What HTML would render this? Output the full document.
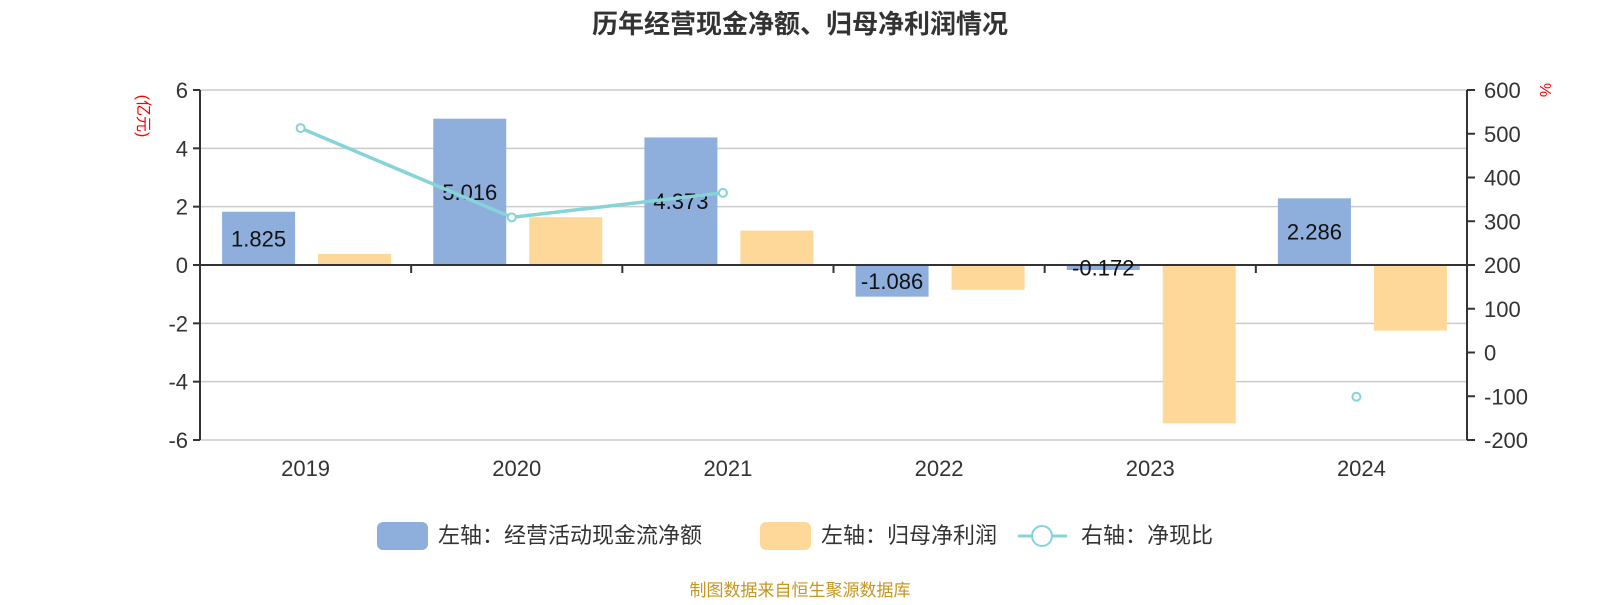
<!DOCTYPE html>
<html><head><meta charset="utf-8"><style>
body{margin:0;background:#fff}
svg text{font-family:"Liberation Sans","Noto Sans CJK SC",sans-serif}
</style></head><body>
<svg id="c" width="1600" height="600" xmlns="http://www.w3.org/2000/svg">
<text x="800" y="33" text-anchor="middle" font-size="26" font-weight="bold" fill="#333">历年经营现金净额、归母净利润情况</text>
<text transform="translate(138,116) rotate(90)" text-anchor="middle" font-size="16" fill="#f00">(亿元)</text>
<text transform="translate(1540,90) rotate(90)" text-anchor="middle" font-size="16" fill="#f00">%</text>
<g id="grid"></g><g id="bars"></g><g id="axes"></g><g id="line"></g>
<g>
<rect x="377" y="522" width="51" height="28" rx="6" fill="#8eaedb"/>
<text x="438" y="543" font-size="22" fill="#333">左轴：经营活动现金流净额</text>
<rect x="760" y="522" width="51" height="28" rx="6" fill="#fed898"/>
<text x="821" y="543" font-size="22" fill="#333">左轴：归母净利润</text>
<line x1="1018" y1="536" x2="1067" y2="536" stroke="#86d4d8" stroke-width="3"/>
<circle cx="1042" cy="536" r="10" fill="#fff" stroke="#86d4d8" stroke-width="2"/>
<text x="1081" y="543" font-size="22" fill="#333">右轴：净现比</text>
</g>
<text x="800" y="596" text-anchor="middle" font-size="17" fill="#c8961e">制图数据来自恒生聚源数据库</text>
</svg>
<script>
const categories=["2019","2020","2021","2022","2023","2024"];
const cashflow=[1.825,5.016,4.373,-1.086,-0.172,2.286];
const profit=[0.38,1.64,1.18,-0.85,-5.43,-2.25];
const ratio=[513,309,365,null,null,-101];
const leftTicks=[6,4,2,0,-2,-4,-6];
const rightTicks=[600,500,400,300,200,100,0,-100,-200];
const NS="http://www.w3.org/2000/svg";
const X0=200,X1=1467,Y0=90,Y1=440;
const band=(X1-X0)/categories.length;
const yL=v=>Y0+(6-v)/12*(Y1-Y0);
const yR=v=>Y0+(600-v)/800*(Y1-Y0);
const xc=i=>X0+band*(i+0.5);
function mk(tag,attrs,parent,txt){const e=document.createElementNS(NS,tag);for(const k in attrs)e.setAttribute(k,attrs[k]);if(txt!==undefined)e.textContent=txt;document.getElementById(parent).appendChild(e);return e;}
leftTicks.forEach(t=>{
  const y=yL(t);
  if(t!==0){const g=mk('line',{x1:X0,x2:X1,y1:y,y2:y,stroke:'#ccc','stroke-width':1.5},'grid');
  
  }
  const tk=mk('line',{x1:X0-7,x2:X0,y1:y,y2:y,stroke:'#333','stroke-width':2},'axes');
  
  
  const l=mk('text',{x:X0-12,y:y+8,'text-anchor':'end','font-size':22,fill:'#333'},'axes',String(t));
  
  
});
rightTicks.forEach(t=>{
  const y=yR(t);
  const tk=mk('line',{x1:X1,x2:X1+8,y1:y,y2:y,stroke:'#333','stroke-width':2},'axes');
  
  
  const l=mk('text',{x:X1+17,y:y+8,'font-size':22,fill:'#333'},'axes',String(t));
  
  
});
let a=mk('line',{x1:X0,x2:X0,y1:Y0,y2:Y1,stroke:'#333','stroke-width':2},'axes');


a=mk('line',{x1:X1,x2:X1,y1:Y0,y2:Y1,stroke:'#333','stroke-width':2},'axes');


a=mk('line',{x1:X0,x2:X1,y1:yL(0),y2:yL(0),stroke:'#333','stroke-width':2},'axes');


categories.forEach((c,i)=>{
  if(i>0){const tk=mk('line',{x1:X0+band*i,x2:X0+band*i,y1:yL(0),y2:yL(0)+8,stroke:'#333','stroke-width':2},'axes');
  
  }
  const l=mk('text',{x:xc(i),y:476,'text-anchor':'middle','font-size':22,fill:'#333'},'axes',c);
  
  
  const bw=73;
  const v=cashflow[i],y0=yL(0),yv=yL(v);
  const b=mk('rect',{x:xc(i)-47-bw/2,y:Math.min(y0,yv),width:bw,height:Math.max(1,Math.abs(yv-y0)),fill:'#8eaedb'},'bars');
  
  
  const p=profit[i],yp=yL(p);
  const b2=mk('rect',{x:xc(i)+49-bw/2,y:Math.min(y0,yp),width:bw,height:Math.max(1,Math.abs(yp-y0)),fill:'#fed898'},'bars');
  
  
  const lt=mk('text',{x:xc(i)-47,y:(y0+yv)/2+8,'text-anchor':'middle','font-size':22,fill:'#111'},'line',v.toFixed(3));
  
  
});
let seg=[];
const segs=[];
ratio.forEach((r,i)=>{if(r===null){if(seg.length)segs.push(seg);seg=[];}else seg.push([xc(i)-5,yR(r)]);});
if(seg.length)segs.push(seg);
segs.forEach(s=>{if(s.length>1){const pl=mk('polyline',{points:s.map(p=>p.join(',')).join(' '),fill:'none',stroke:'#86d4d8','stroke-width':3.5},'line');
  
  }});
ratio.forEach((r,i)=>{if(r===null)return;
  const cc=mk('circle',{cx:xc(i)-5,cy:yR(r),r:4,fill:'#fff',stroke:'#86d4d8','stroke-width':2},'line');
  
  });
</script>
</body></html>
